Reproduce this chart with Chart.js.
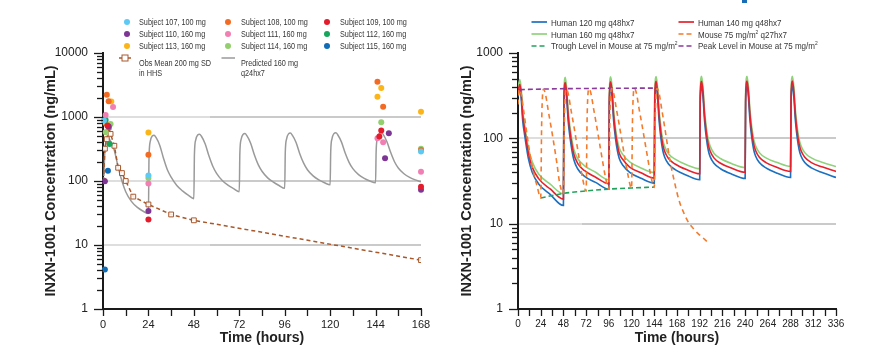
<!DOCTYPE html>
<html>
<head>
<meta charset="utf-8">
<script src="https://cdn.jsdelivr.net/npm/chart.js@4.4.1/dist/chart.umd.min.js"></script>
<style>
  body { margin: 0; background: #fff; width: 881px; height: 347px; position: relative; overflow: hidden; font-family: 'Liberation Sans', Arial, sans-serif; }
  #left { position: absolute; left: 0; top: 0; }
  #right { position: absolute; left: 440px; top: 0; }
  .lg { position: absolute; font-family: 'Liberation Sans', Arial, sans-serif; color: #363636; white-space: nowrap; transform: scaleX(0.82); transform-origin: 0 50%; }
  .dot { position: absolute; width: 6px; height: 6px; border-radius: 50%; }
  .mk { position: absolute; }
  #logo { position: absolute; left: 742px; top: 0; width: 5px; height: 3px; background: #1a6db5; }
</style>
</head>
<body>
<canvas id="left" width="440" height="347"></canvas>
<canvas id="right" width="441" height="347"></canvas>
<div id="legendLeft"></div>
<div id="legendRight"></div>
<div id="logo"></div>
<script>
// ---------- left chart data ----------
const s107T = [0.5, 24, 168];
const s107V = [880, 122, 290];
const s108T = [2, 3, 24, 145, 148, 168];
const s108V = [2230, 1760, 257, 3560, 1450, 305];
const s109T = [2.3, 24, 146, 147, 168];
const s109V = [735, 25, 495, 614, 81];
const s110T = [1, 3, 24, 149, 151, 168];
const s110V = [99, 710, 34, 227, 557, 73];
const s111T = [1.4, 5.3, 24, 145, 148, 168];
const s111V = [1070, 1437, 91, 466, 404, 140];
const s112T = [1.4, 3.5];
const s112V = [900, 380];
const s113T = [1.4, 4.4, 24, 145, 147, 168];
const s113V = [800, 1750, 571, 2080, 2840, 1210];
const s114T = [1.4, 4, 24, 147, 168];
const s114V = [580, 780, 111, 828, 318];
const s115T = [1, 2.6];
const s115V = [4.15, 145];

const obsT = [0.25, 1, 2, 3, 4, 6, 8, 10, 12, 16, 24, 36, 48, 168];
const obsV = [100, 320, 450, 690, 545, 355, 161, 133, 100, 57, 43, 30, 24.3, 5.8];

const predT = [0.5, 1, 2, 3, 4, 6, 8, 10, 12, 15, 18, 21, 24,
  24.3, 25, 26, 27, 28, 30, 32, 34, 36, 39, 42, 45, 48,
  48.3, 49, 50, 51, 52, 54, 56, 58, 60, 63, 66, 69, 72,
  72.3, 73, 74, 75, 76, 78, 80, 82, 84, 87, 90, 93, 96,
  96.3, 97, 98, 99, 100, 102, 104, 106, 108, 111, 114, 117, 120,
  120.3, 121, 122, 123, 124, 126, 128, 130, 132, 135, 138, 141, 144,
  144.3, 145, 146, 147, 148, 150, 152, 154, 156, 159, 162, 165, 168];
const predV = [120, 300, 440, 460, 420, 300, 165, 100, 68, 48, 39, 34, 31,
  220, 420, 505, 520, 480, 360, 225, 150, 115, 85, 70, 60, 53,
  260, 440, 525, 540, 500, 380, 245, 170, 132, 102, 86, 76, 68,
  270, 450, 535, 550, 510, 390, 255, 180, 142, 112, 96, 85, 77,
  280, 455, 545, 560, 520, 400, 265, 190, 150, 120, 104, 94, 87,
  285, 460, 550, 568, 528, 405, 272, 196, 156, 126, 110, 100, 94,
  290, 465, 555, 575, 535, 410, 278, 200, 160, 130, 114, 104, 97];

const leftXTicks = [0, 24, 48, 72, 96, 120, 144, 168];
const leftYLabels = [1, 10, 100, 1000, 10000];

// ---------- right chart data ----------
const humanT = [0, 2, 3.5, 5, 7, 9, 11, 15, 22, 34, 48,
  48.5, 50, 51.5, 53, 55, 57, 59, 63, 70, 82, 96,
  96.5, 98, 99.5, 101, 103, 105, 107, 111, 118, 130, 144,
  144.5, 146, 147.5, 149, 151, 153, 155, 159, 166, 178, 192,
  192.5, 194, 195.5, 197, 199, 201, 203, 207, 214, 226, 240,
  240.5, 242, 243.5, 245, 247, 249, 251, 255, 262, 274, 288,
  288.5, 290, 291.5, 293, 295, 297, 299, 303, 310, 322, 336];
const h120V = [310, 380, 280, 160, 110, 78, 58, 40, 29, 22, 16.3,
  250, 395, 285, 160, 102, 72, 56, 44, 36, 30.5, 25.4,
  255, 405, 292, 163, 100, 72, 58, 48, 40, 34, 29.9,
  260, 410, 298, 165, 100, 72, 60, 50, 43, 37, 32.7,
  260, 410, 300, 166, 101, 73, 61, 51, 44, 38, 33.8,
  262, 412, 300, 167, 102, 74, 62, 52, 45, 39, 34.8,
  262, 412, 300, 167, 102, 74, 62, 52, 45, 39.5, 34.8];
const h140V = [350, 430, 325, 185, 128, 90, 67, 46, 33.5, 25.5, 19.4,
  290, 450, 330, 185, 118, 84, 65, 51, 42, 35, 29.3,
  295, 460, 338, 189, 116, 84, 67, 56, 46, 39.5, 34.2,
  300, 465, 345, 191, 116, 84, 70, 58, 50, 43, 38.4,
  300, 465, 348, 193, 117, 85, 71, 59, 51, 44.5, 40,
  302, 468, 348, 194, 118, 86, 72, 60, 52, 45.5, 41,
  302, 468, 348, 194, 118, 86, 72, 60, 52, 46, 41];
const h160V = [400, 490, 370, 210, 146, 103, 77, 53, 38, 29, 22.4,
  330, 518, 375, 210, 134, 95, 74, 58, 48, 40, 32.7,
  335, 525, 385, 215, 132, 95, 77, 64, 53, 45, 39.8,
  340, 530, 393, 218, 133, 96, 80, 66, 57, 49, 44,
  342, 532, 395, 219, 134, 97, 81, 67, 58, 50.5, 45.6,
  345, 533, 396, 220, 135, 98, 82, 68, 59, 52, 47,
  345, 533, 396, 220, 135, 98, 82, 68, 59, 52, 46.8];

const mouseT = [0, 1, 2, 4, 6, 8, 11, 14, 17, 20, 24,
  25, 26, 27, 29, 32, 35, 38, 41, 44, 48,
  49, 50, 51, 53, 56, 59, 62, 65, 68, 72,
  73, 74, 75, 77, 80, 83, 86, 89, 92, 96,
  97, 98, 99, 101, 104, 107, 110, 113, 116, 120,
  121, 122, 123, 125, 128, 131, 134, 137, 140, 144,
  145, 146, 147, 149, 152, 155, 158, 161, 165, 170, 175, 181, 186, 190, 195, 200];
const mouseV = [250, 360, 375, 300, 210, 145, 85, 53, 37, 28, 20,
  150, 330, 378, 330, 210, 135, 85, 52, 30, 22.5,
  160, 335, 380, 335, 215, 140, 88, 55, 35, 24,
  165, 340, 382, 338, 218, 142, 90, 57, 37, 25.3,
  165, 340, 384, 340, 220, 143, 91, 58, 38, 26,
  168, 342, 385, 342, 220, 144, 92, 59, 38, 26.5,
  168, 342, 386, 340, 215, 135, 82, 52, 32, 19, 13.5, 10, 8.6, 7.7, 6.9, 6.1];

const troughT = [24, 48, 72, 96, 120, 144];
const troughV = [20, 22.6, 24.2, 25.4, 26.2, 26.8];
const peakT = [2, 26, 50, 74, 98, 122, 146];
const peakV = [372, 378, 382, 384, 386, 387, 388];

const rightXTicks = [0, 24, 48, 72, 96, 120, 144, 168, 192, 216, 240, 264, 288, 312, 336];
const rightYLabels = [1, 10, 100, 1000];

// ---------- helpers ----------
const pts = (t, v) => t.map((x, i) => ({ x: x, y: v[i] }));

const logTicks = (labels) => {
  const out = [];
  for (let i = 0; i < labels.length - 1; i++) {
    for (let m = 1; m < 10; m++) out.push(labels[i] * m);
  }
  out.push(labels[labels.length - 1]);
  return out.map(v => ({ value: v }));
};

const makeTickMarks = (majors) => ({
  id: 'tickMarks',
  afterDraw(chart) {
    const { ctx, chartArea, scales: { x, y } } = chart;
    ctx.save();
    ctx.strokeStyle = '#1a1a1a';
    ctx.lineWidth = 1.3;
    y.ticks.forEach(t => {
      const py = Math.round(y.getPixelForValue(t.value)) + 0.5;
      const len = majors.includes(t.value) ? 9 : 6;
      ctx.beginPath();
      ctx.moveTo(chartArea.left - len, py);
      ctx.lineTo(chartArea.left, py);
      ctx.stroke();
    });
    x.ticks.forEach(t => {
      const px = Math.round(x.getPixelForValue(t.value)) + 0.5;
      ctx.beginPath();
      ctx.moveTo(px, chartArea.bottom);
      ctx.lineTo(px, chartArea.bottom + 7);
      ctx.stroke();
    });
    ctx.restore();
  }
});

// gridlines: pale on the left part, a little darker further right
const gridColor = (split) => (c) => {
  if (!c.tick || !c.gridVals.includes(c.tick.value)) return 'rgba(0,0,0,0)';
  const area = c.chart.chartArea;
  if (!area) return '#cfcfcf';
  const g = c.chart.ctx.createLinearGradient(area.left, 0, area.right, 0);
  const f = (split - area.left) / (area.right - area.left);
  g.addColorStop(0, '#dedede');
  g.addColorStop(f, '#dedede');
  g.addColorStop(f, '#cacaca');
  g.addColorStop(1, '#cacaca');
  return g;
};

const axisFont = { family: "'Liberation Sans', Arial, sans-serif" };

const buildScales = (xMax, xLabels, yMax, yLabels, gridVals, split, yWidth, tickFont) => ({
  x: {
    type: 'linear', min: 0, max: xMax,
    grid: { display: false, drawTicks: false },
    border: { display: true, color: '#1a1a1a', width: 2 },
    ticks: {
      stepSize: 12, autoSkip: false, maxRotation: 0, padding: 9,
      color: '#222', font: { ...axisFont, size: tickFont },
      callback: v => xLabels.includes(v) ? String(v) : ''
    },
    title: { display: true, text: 'Time (hours)', color: '#222', font: { ...axisFont, size: 14, weight: 'bold' }, padding: { top: 0, bottom: 0 } },
    afterFit: s => { s.height = 38; }
  },
  y: {
    type: 'logarithmic', min: 1, max: yMax,
    afterBuildTicks: s => { s.ticks = logTicks(yLabels); },
    grid: {
      drawTicks: false, lineWidth: 2,
      color: c => gridColor(split)(Object.assign(c, { gridVals: gridVals }))
    },
    border: { display: true, color: '#1a1a1a', width: 2 },
    ticks: {
      autoSkip: false, padding: 15, color: '#222', font: { ...axisFont, size: 12 },
      callback: v => yLabels.includes(v) ? String(v) : ''
    },
    title: { display: true, text: 'INXN-1001 Concentration (ng/mL)', color: '#222', font: { ...axisFont, size: 14.5, weight: 'bold' }, padding: { top: yWidth.titlePad, bottom: 0 } },
    afterFit: s => { s.width = yWidth.w; }
  }
});

const baseOptions = (padding, scales) => ({
  responsive: false,
  animation: false,
  devicePixelRatio: 1,
  layout: { padding: padding },
  plugins: { legend: { display: false }, tooltip: { enabled: false } },
  scales: scales
});

// ---------- left chart ----------
const subjects = [
  { label: 'Subject 107, 100 mg', color: '#5ccaf4', t: s107T, v: s107V },
  { label: 'Subject 108, 100 mg', color: '#f36b22', t: s108T, v: s108V },
  { label: 'Subject 109, 100 mg', color: '#e31b2b', t: s109T, v: s109V },
  { label: 'Subject 110, 160 mg', color: '#7e3695', t: s110T, v: s110V },
  { label: 'Subject 111, 160 mg', color: '#f27fb3', t: s111T, v: s111V },
  { label: 'Subject 112, 160 mg', color: '#16a65b', t: s112T, v: s112V },
  { label: 'Subject 113, 160 mg', color: '#fcb517', t: s113T, v: s113V },
  { label: 'Subject 114, 160 mg', color: '#93cf6e', t: s114T, v: s114V },
  { label: 'Subject 115, 160 mg', color: '#0f6cb6', t: s115T, v: s115V }
];

const leftDatasets = subjects.map(s => ({
  type: 'scatter', label: s.label, data: pts(s.t, s.v),
  pointRadius: 3, pointBackgroundColor: s.color, pointBorderWidth: 0,
  showLine: false, clip: false, order: 0
}));
leftDatasets.push({
  type: 'line', label: 'Obs Mean 200 mg SD in HHS', data: pts(obsT, obsV),
  borderColor: '#a9582b', borderWidth: 1.5, borderDash: [4, 3],
  pointStyle: 'rect', pointRadius: 3.4, pointBorderColor: '#a9582b', pointBorderWidth: 1,
  pointBackgroundColor: 'rgba(255,255,255,0.85)', order: 1
});
leftDatasets.push({
  type: 'line', label: 'Predicted 160 mg q24hx7', data: pts(predT, predV),
  borderColor: '#9a9a9a', borderWidth: 1.5, pointRadius: 0,
  cubicInterpolationMode: 'monotone', order: 2
});

new Chart(document.getElementById('left'), {
  type: 'scatter',
  data: { datasets: leftDatasets },
  options: baseOptions({ left: 40, top: 53, right: 19, bottom: 0 },
    buildScales(168, leftXTicks, 10000, leftYLabels, [10, 100, 1000], 210, { w: 63, titlePad: 2 }, 11)),
  plugins: [makeTickMarks(leftYLabels)]
});

// ---------- right chart ----------
const rightSeries = [
  { label: 'Human 120 mg q48hx7', color: '#1c70c0', t: humanT, v: h120V, dash: [], order: 3 },
  { label: 'Human 140 mg q48hx7', color: '#e4222d', t: humanT, v: h140V, dash: [], order: 2 },
  { label: 'Human 160 mg q48hx7', color: '#8fd27b', t: humanT, v: h160V, dash: [], order: 4 },
  { label: 'Mouse 75 mg/m² q27hx7', color: '#f47b2c', t: mouseT, v: mouseV, dash: [5, 4], order: 0 },
  { label: 'Trough Level in Mouse at 75 mg/m²', color: '#22a35c', t: troughT, v: troughV, dash: [5, 3], order: 1 },
  { label: 'Peak Level in Mouse at 75 mg/m²', color: '#8a3a9b', t: peakT, v: peakV, dash: [5, 3], order: 1 }
];

new Chart(document.getElementById('right'), {
  type: 'line',
  data: {
    datasets: rightSeries.map(s => ({
      label: s.label, data: pts(s.t, s.v),
      borderColor: s.color, borderWidth: 1.6, borderDash: s.dash,
      pointRadius: 0, cubicInterpolationMode: 'monotone', order: s.order
    }))
  },
  options: baseOptions({ left: 18, top: 53, right: 45, bottom: 0 },
    buildScales(336, rightXTicks, 1000, rightYLabels, [10, 100], 142, { w: 60, titlePad: 0 }, 10)),
  plugins: [makeTickMarks(rightYLabels)]
});

// ---------- legends (html) ----------
const legL = document.getElementById('legendLeft');
const markX = [127, 228, 327];
const textX = [139, 241, 340];
const rowY = [22.3, 34, 45.7, 57.7];
const fsL = 8.9;

const addText = (host, x, y, html, fs, lh) => {
  const d = document.createElement('div');
  d.className = 'lg';
  d.style.left = x + 'px';
  d.style.top = (y - lh / 2) + 'px';
  d.style.fontSize = fs + 'px';
  d.style.lineHeight = lh + 'px';
  d.innerHTML = html;
  host.appendChild(d);
};

subjects.forEach((s, i) => {
  const col = i % 3, row = Math.floor(i / 3);
  const dot = document.createElement('div');
  dot.className = 'dot';
  dot.style.background = s.color;
  dot.style.left = (markX[col] - 3) + 'px';
  dot.style.top = (rowY[row] - 3) + 'px';
  legL.appendChild(dot);
  addText(legL, textX[col], rowY[row], s.label, fsL, 10);
});

legL.insertAdjacentHTML('beforeend',
  '<svg class="mk" style="left:118px;top:' + (rowY[3] - 5) + 'px" width="14" height="10">' +
  '<line x1="1" y1="5" x2="13" y2="5" stroke="#a9582b" stroke-width="1.5"/>' +
  '<rect x="4" y="2" width="6" height="6" fill="#fff" stroke="#a9582b" stroke-width="1"/></svg>');
addText(legL, textX[0], rowY[3] + 5, 'Obs Mean 200 mg SD<br>in HHS', fsL, 10);
legL.insertAdjacentHTML('beforeend',
  '<svg class="mk" style="left:221px;top:' + (rowY[3] - 2) + 'px" width="15" height="4">' +
  '<line x1="0.5" y1="2" x2="14" y2="2" stroke="#9a9a9a" stroke-width="1.5"/></svg>');
addText(legL, textX[1], rowY[3] + 5, 'Predicted 160 mg<br>q24hx7', fsL, 10);

const legR = document.getElementById('legendRight');
const lineXR = [531, 678];
const textXR = [551, 698];
const rowYR = [22.3, 34, 45.7];
rightSeries.forEach((s, i) => {
  const col = i % 2, row = Math.floor(i / 2);
  const dash = s.dash.length ? ' stroke-dasharray="5,3"' : '';
  legR.insertAdjacentHTML('beforeend',
    '<svg class="mk" style="left:' + lineXR[col] + 'px;top:' + (rowYR[row] - 2) + 'px" width="17" height="4">' +
    '<line x1="0.5" y1="2" x2="16" y2="2" stroke="' + s.color + '" stroke-width="1.7"' + dash + '/></svg>');
  addText(legR, textXR[col], rowYR[row], s.label.replace('²', '<sup style="font-size:6px;line-height:0">2</sup>'), 9.8, 11);
});
</script>
</body>
</html>
